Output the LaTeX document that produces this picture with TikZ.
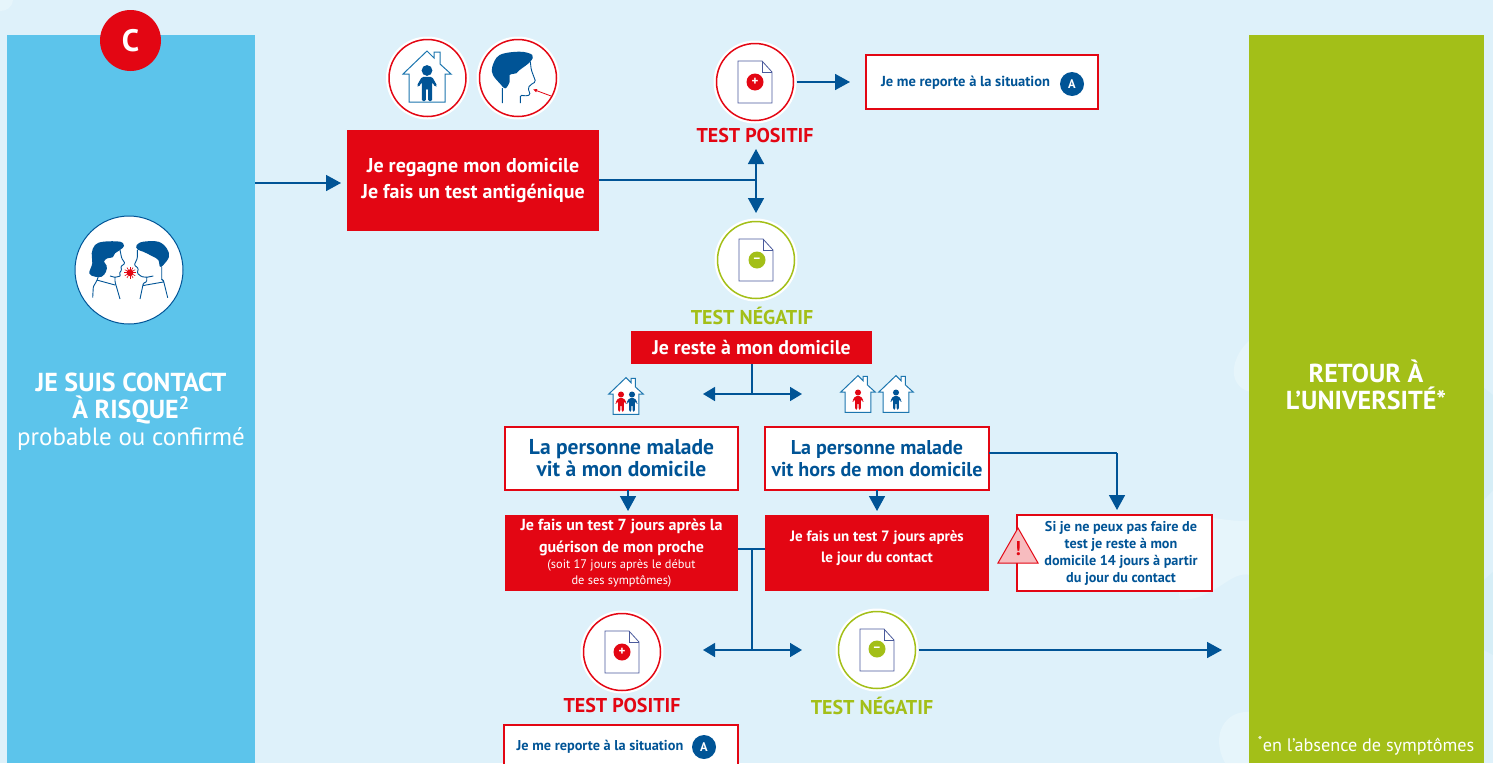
\documentclass[tikz, border = 0pt]{standalone}
\usepackage{fontspec}
\setmainfont{PT Sans}
\usetikzlibrary{
    arrows.meta,
    calc
}
\definecolor{sky}{HTML}{5CC4EB}
\definecolor{paper}{HTML}{DEF1FA}
\definecolor{blob}{HTML}{E6F5FB}
\definecolor{blobd}{HTML}{D6EEF7}
\definecolor{rouge}{HTML}{E30613}
\definecolor{bleu}{HTML}{005496}
\definecolor{vert}{HTML}{A3BF18}
\definecolor{docline}{HTML}{4A5A9C}
\tikzset {
    panel/.style = {inner sep = 0pt, outer sep = 0pt},
    redbox/.style = {
        fill = rouge, text = white, inner sep = 0pt, outer sep = 0pt,
        align = center, font = \bfseries
    },
    whitebox/.style = {
        draw = rouge, fill = white, line width = 1.3pt, text = bleu,
        inner sep = 0pt, outer sep = 0pt, align = center, font = \bfseries
    },
    legend/.style = {inner sep = 0pt, align = center, font = \bfseries},
    test legend/.style = {
        inner sep = 0pt, text = #1,
        font = \bfseries\fontsize{20}{20}\selectfont
    },
    ring/.style = {
        circle, fill = white, draw = #1, line width = 1.5pt,
        minimum size = 77pt, inner sep = 0pt, outer sep = 3pt
    },
    halo/.style = {circle, fill = white, minimum size = 83pt, inner sep = 0pt},
    sign/.style = {
        circle, fill = #1, text = white, minimum size = 17pt, inner sep = 0pt,
        font = \bfseries\fontsize{13}{13}\selectfont
    },
    badge/.style = {
        circle, fill = bleu, text = white, minimum size = 24pt,
        inner sep = 0pt, font = \bfseries\fontsize{12.5}{12.5}\selectfont
    },
    flow/.style = {
        draw = bleu, line width = 1.6pt,
        arrows = {-Triangle[length = 15pt, width = 16pt]}
    },
    flow both/.style = {
        draw = bleu, line width = 1.6pt,
        arrows = {Triangle[length = 12pt, width = 14pt]-Triangle[length = 12pt, width = 14pt]}
    },
    trunk/.style = {draw = bleu, line width = 1.6pt},
    person/.pic = {
        \fill [pic actions] (0, -9) circle (4.2);
        \fill [pic actions, rounded corners = 1.5pt] (-4, -4) -- (4, -4)
            -- (8, 3) -- (6.5, 4) -- (4, 0) -- (4, 15) -- (0.8, 15) -- (0.8, 5)
            -- (-0.8, 5) -- (-0.8, 15) -- (-4, 15) -- (-4, 0) -- (-6.5, 4)
            -- (-8, 3) -- cycle;
    },
    house/.pic = {
        \filldraw [draw = bleu!70!sky, fill = white, line width = 1pt]
            (-18, 24) -- (-18, -4) -- (-24, -4) -- (0, -27) -- (7, -20)
            -- (7, -26) -- (13, -26) -- (13, -14) -- (24, -4) -- (18, -4)
            -- (18, 24) -- cycle;
    },
    document/.pic = {
        \filldraw [draw = docline, fill = white, line width = .8pt]
            (-17, -21) -- (7, -21) -- (17, -10) -- (17, 21) -- (-17, 21) -- cycle;
        \draw [draw = docline, line width = .8pt] (7, -21) -- (7, -10) -- (17, -10);
    }
}

\begin{document}
\begin{tikzpicture}[x = 1pt, y = -1pt]
    \useasboundingbox (0, 0) rectangle (1493, 763);
    \clip (0, 0) rectangle (1493, 763);
    \fill [paper] (0, 0) rectangle (1493, 763);
    % fond
    \fill [blob] (0, 0) -- (13, 0) .. controls (12, 8) and (6, 11) .. (0, 11) -- cycle;
    \fill [blob] (1250, 340) .. controls (1232, 355) and (1225, 385) .. (1250, 392) -- cycle;
    \fill [blob] (1170, 530) .. controls (1190, 505) and (1225, 525) .. (1250, 520)
        -- (1250, 575) .. controls (1230, 570) and (1215, 600) .. (1180, 600) -- cycle;
    \fill [blob] (1250, 712) .. controls (1225, 710) and (1210, 735) .. (1225, 763) -- (1250, 763) -- cycle;
    \fill [blobd] (1484, 388) -- (1493, 395) -- (1493, 490) -- (1484, 500) -- cycle;
    \fill [blobd] (1484, 580) -- (1493, 572) -- (1493, 655) -- (1484, 650) -- cycle;

    % colonnes
    \node (contact) [panel, fill = sky, minimum width = 248pt, minimum height = 728pt] at (131, 399) {};
    \node (retour) [panel, fill = vert, minimum width = 235pt, minimum height = 728pt] at (1366.5, 399) {};
    \node (c) [circle, fill = rouge, text = white, minimum size = 61pt, inner sep = 0pt,
        font = \bfseries\fontsize{31}{31}\selectfont] at (130.5, 40.5) {C};
    \node (risque) [legend, text = white, font = \bfseries\fontsize{26}{26.5}\selectfont] at (131, 398.5) {JE SUIS CONTACT\\À RISQUE\textsuperscript{2}};
    \node (probable) [legend, text = white, font = \fontsize{25}{25}\selectfont] at (131, 439) {probable ou confirmé};
    \node (universite) [legend, text = white, font = \bfseries\fontsize{26}{27}\selectfont] at (1366, 384.5) {RETOUR À\\L’UNIVERSITÉ*};
    \node (absence) [legend, text = white, font = \fontsize{18.2}{18.2}\selectfont] at (1366, 746) {\textsuperscript{*}en l’absence de symptômes};

    % icone contact
    \node (profils) [circle, fill = white, draw = bleu, line width = 1pt, minimum size = 108pt, inner sep = 0pt] at (129, 270) {};
    \begin{scope}[shift = {(129, 270)}]
        \fill [bleu] plot [smooth cycle, tension = .6] coordinates {(-37.3, -16.7) (-34, -25) (-25.7, -28.3) (-9, -28.3) (-5, -24) (-9, -20) (-14, -16.7) (-16.3, -12.7) (-21.7, -11.7) (-25, -8.3) (-22.3, -4.3) (-23, 1.7) (-27.3, 6.7) (-34, 6.7) (-39.7, 3.3) (-36.7, -6.7)};
        \fill [bleu] plot [smooth cycle, tension = .6] coordinates {(7.7, -25) (14.3, -28.3) (29.3, -28.3) (37.7, -21.7) (40, -13.3) (34.3, -5) (31, -3.3) (29.3, -10) (24.3, -13.3) (21, -15) (14.3, -18.3) (8.3, -20.7)};
        \draw [bleu, line width = .9pt, rounded corners = 1pt]
            (-9, -20) -- (-7.3, -11.7) -- (-4, -6.7) -- (-8.3, -3.3) -- (-7.3, 0) -- (-9.7, 3.3) -- (-8.3, 6) -- (-14, 7.3) -- (-19, 6)
            (-14, 7.3) -- (-14, 11.7) -- (-9, 29)
            (-30.7, 6.7) -- (-32.3, 11) -- (-35.7, 16.7) -- (-36.3, 27.7)
            (-32.3, 10) -- (-14, 15);
        \draw [bleu, line width = .9pt, rounded corners = 1pt]
            (8.3, -20) -- (8.3, -11.7) -- (5.3, -5) -- (9.3, -1.7) -- (8.3, 3.3) -- (12.7, 6.7) -- (17.7, 7.3) -- (24.3, 6)
            (17.7, 7.3) -- (17.7, 11.7) -- (14.3, 13.3) -- (11, 29)
            (32.7, -3.3) -- (32.7, 10) -- (34.3, 10) -- (38.7, 27.7)
            (14.3, 15.5) -- (34.3, 12);
        \fill [rouge] (1, 2.7) circle (3.4);
        \foreach \a in {0, 30, ..., 330} {
            \draw [rouge, line width = .6pt] ($(1, 2.7) + (\a:3)$) -- ($(1, 2.7) + (\a:6)$);
        }
    \end{scope}

    % premiere etape
    \node (halomaison) [halo] at (427.5, 78) {};
    \node (maison) [ring = rouge] at (427.5, 78) {};
    \pic at (427, 78) {house};
    \pic [fill = bleu, scale = 1.28] at (427, 82) {person};
    \node (halotete) [halo] at (518, 78) {};
    \node (tete) [ring = rouge] at (518, 78) {};
    \begin{scope}[shift = {(518, 78)}]
        \fill [bleu] plot [smooth cycle, tension = .6] coordinates {(-25.7, -11.3) (-18.3, -23) (1.7, -26.3) (14.3, -23) (12.3, -16.3) (1.7, -8) (-1.7, -4.7) (-8.3, -3) (-8.3, 3.7) (-12.7, 10.3) (-18.3, 5.3) (-25, -3)};
        \draw [bleu, line width = .9pt, rounded corners = 1.5pt] (12.3, -16.3) -- (13.3, -8) -- (17.7, 3.7)
            -- (12.3, 7) -- (10, 10) -- (12.3, 17) -- (6.7, 18) -- (2.3, 17) -- (2.3, 25)
            (-15.7, 10) -- (-15.7, 25);
        \draw [rouge, line width = .8pt, arrows = {-Triangle[length = 4pt, width = 3pt]}] (33, 18) -- (15, 11.3);
    \end{scope}
    \node (regagne) [redbox, minimum width = 252pt, minimum height = 101pt, font = \bfseries\fontsize{20}{26.5}\selectfont] at (473, 180.5) {Je regagne mon domicile\\Je fais un test antigénique};

    \node (halopos) [halo] at (755, 82) {};
    \node (pos) [ring = rouge] at (755, 82) {};
    \pic at (755, 82) {document};
    \node (pospt) [sign = rouge] at (755, 82) {+};
    \node (poslabel) [test legend = rouge] at (755, 135) {TEST POSITIF};
    \node (reportea) [whitebox, minimum width = 232pt, minimum height = 54pt] at (982, 82) {};
    \node (reporteatext) [legend, text = bleu, font = \bfseries\fontsize{14.5}{14.5}\selectfont] at (965.5, 82.5) {Je me reporte à la situation};
    \node (a) [badge] at (1072, 84) {A};
    \node (haloneg) [halo] at (756, 260) {};
    \node (neg) [ring = vert] at (756, 260) {};
    \pic at (756, 260) {document};
    \node (negpt) [sign = vert] at (757, 260) {–};
    \node (neglabel) [test legend = vert] at (752, 316) {TEST NÉGATIF};

    \coordinate (fourchehaut) at (756, 149);
    \coordinate (fourchebas) at (756, 213);
    \coordinate (fourche) at (756, 180);
    \coordinate (versregagne) at (341, 183);
    \draw [flow] (contact.east |- versregagne) -- (versregagne);
    \draw [trunk] (regagne.east |- fourche) -- (fourche);
    \draw [flow] (fourche) -- (fourchehaut);
    \draw [flow] (fourche) -- (fourchebas);
    \coordinate (posout) at (850, 82);
    \draw [flow] (pos.east) -- (posout);

    % deuxieme etape
    \node (reste) [redbox, minimum width = 241pt, minimum height = 33pt, font = \bfseries\fontsize{19.8}{19.8}\selectfont] at (751.5, 347.5) {Je reste à mon domicile};
    \coordinate (restebas) at (752, 394);
    \coordinate (restegauche) at (703, 394);
    \coordinate (restedroite) at (802, 394);
    \draw [trunk] (restebas |- reste.south) -- (restebas);
    \draw [flow both] (restegauche) -- (restedroite);

    \pic [scale = .72] at (626, 397) {house};
    \pic [fill = rouge, scale = .72] at (621, 401) {person};
    \pic [fill = bleu, scale = .72] at (632, 401) {person};
    \pic [scale = .72] at (858, 395) {house};
    \pic [fill = rouge, scale = .72] at (858, 399) {person};
    \pic [scale = .72] at (896, 395) {house};
    \pic [fill = bleu, scale = .72] at (896, 399) {person};

    \node (malade) [whitebox, minimum width = 233pt, minimum height = 63pt, font = \bfseries\fontsize{21.5}{22}\selectfont] at (621.5, 458.5) {La personne malade\\vit à mon domicile};
    \node (horsmalade) [whitebox, minimum width = 224pt, minimum height = 63pt, font = \bfseries\fontsize{20}{22}\selectfont] at (877, 458.5) {La personne malade\\vit hors de mon domicile};
    \node (septa) [redbox, minimum width = 233pt, minimum height = 76pt] at (621.5, 553) {};
    \node (septatext) [legend, text = white, font = \bfseries\fontsize{16}{22}\selectfont] at (621.5, 553.5) {Je fais un test 7 jours après la\\guérison de mon proche\\[-6pt]
        \fontsize{12.4}{15}\selectfont\mdseries (soit 17 jours après le début\\[-6pt]\fontsize{12.4}{15}\selectfont\mdseries de ses symptômes)};
    \node (septb) [redbox, minimum width = 224pt, minimum height = 76pt] at (877, 553) {};
    \node (septbtext) [legend, text = white, font = \bfseries\fontsize{15}{21}\selectfont] at (877, 548.5) {Je fais un test 7 jours après\\le jour du contact};
    \node (sinon) [whitebox, minimum width = 195pt, minimum height = 76pt] at (1114.5, 553) {};
    \node (sinontext) [legend, text = bleu, font = \bfseries\fontsize{14.2}{17}\selectfont] at (1121, 553) {Si je ne peux pas faire de\\test je reste à mon\\domicile 14 jours à partir\\du jour du contact};
    \coordinate (sommet) at (1018, 528);
    \filldraw [fill = rouge!27, draw = rouge, line width = 1pt] (sommet) -- (1038, 563) -- (998, 563) -- cycle;
    \node (attention) [legend, text = rouge, font = \bfseries\fontsize{20}{20}\selectfont] at (1018, 549) {!};

    \coordinate (maladebas) at (628, 511);
    \coordinate (horsbas) at (877, 511);
    \draw [flow] (maladebas |- malade.south) -- (maladebas);
    \draw [flow] (horsmalade.south) -- (horsbas);
    \coordinate (coude) at (1117, 453);
    \coordinate (coudebas) at (1117, 510);
    \draw [trunk] (horsmalade.east |- coude) -- (coude);
    \draw [flow] (coude) -- (coudebas);

    % derniere etape
    \coordinate (jonction) at (752, 549);
    \coordinate (jonctionbas) at (752, 650);
    \coordinate (jonctiongauche) at (703, 650);
    \coordinate (jonctiondroite) at (802, 650);
    \draw [trunk] (septa.east |- jonction) -- (septb.west |- jonction);
    \draw [trunk] (jonction) -- (jonctionbas);
    \draw [flow both] (jonctiongauche) -- (jonctiondroite);

    \node (halopos2) [halo] at (622, 652) {};
    \node (pos2) [ring = rouge] at (622, 652) {};
    \pic at (622, 652) {document};
    \node (pos2pt) [sign = rouge] at (622, 652) {+};
    \node (pos2label) [test legend = rouge] at (622, 705) {TEST POSITIF};
    \node (reporteb) [whitebox, minimum width = 234pt, minimum height = 50pt] at (621, 750) {};
    \node (reportebtext) [legend, text = bleu, font = \bfseries\fontsize{14.3}{14.3}\selectfont] at (600, 746.5) {Je me reporte à la situation};
    \node (ab) [badge] at (704, 747) {A};

    \node (haloneg2) [halo] at (877, 650) {};
    \node (neg2) [ring = vert] at (877, 650) {};
    \pic at (877, 650) {document};
    \node (neg2pt) [sign = vert] at (877, 649) {–};
    \node (neg2label) [test legend = vert] at (872, 706) {TEST NÉGATIF};
    \coordinate (versretour) at (1222, 650);
    \draw [flow] (neg2.east) -- (versretour);
\end{tikzpicture}
\end{document}
